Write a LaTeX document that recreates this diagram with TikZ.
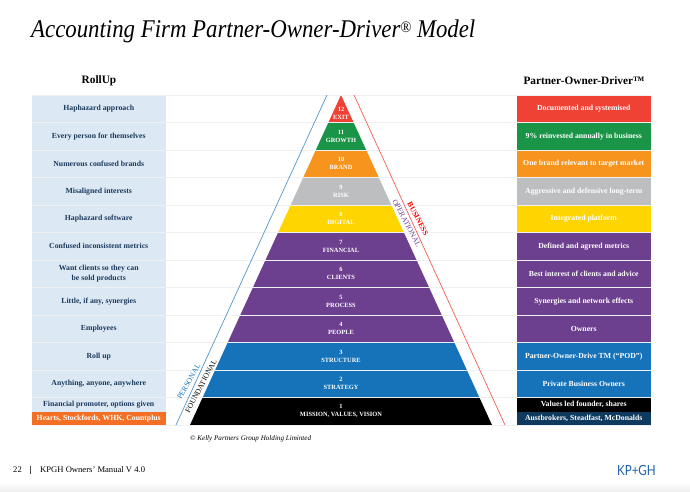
\documentclass[tikz,border=0pt]{standalone}
\usepackage{fontspec}
\setmainfont{Liberation Serif}
\newfontfamily\logofont{Lato}
\definecolor{podred}{HTML}{F04135}
\definecolor{podgreen}{HTML}{1A9447}
\definecolor{podorange}{HTML}{F7941E}
\definecolor{podgray}{HTML}{BCBEC0}
\definecolor{podyellow}{HTML}{FFD500}
\definecolor{podpurple}{HTML}{6C3F8F}
\definecolor{podblue}{HTML}{1673BA}
\definecolor{poddark}{HTML}{0F3A5F}
\definecolor{rollfill}{HTML}{DCE9F5}
\definecolor{rollorange}{HTML}{F26F24}
\definecolor{rolltext}{HTML}{1B3A5C}
\definecolor{rulegray}{HTML}{EEF0F2}
\definecolor{logoblue}{HTML}{1F5FA8}

\begin{document}
\begin{tikzpicture}[x = 1pt, y = -1pt]
        \tikzset{rollcell/.style={
            fill = rollfill,
            text = rolltext,
            font = \fontsize{7.75}{9.4}\selectfont\bfseries,
            align = center,
            inner sep = 0pt,
            minimum width = 134.5pt,
            minimum height = #1,
        }}
        \tikzset{podcell/.style={
            fill = #1,
            text = white,
            font = \fontsize{7.75}{9.4}\selectfont\bfseries,
            align = center,
            inner sep = 0pt,
            minimum width = 134.5pt,
            minimum height = 27.5pt,
        }}
        \tikzset{level/.style={
            text = white,
            font = \fontsize{6.4}{8}\selectfont\bfseries,
            align = center,
            inner sep = 0pt,
        }}
        \tikzset{side/.style={
            text = #1,
            font = \fontsize{7.6}{9}\selectfont,
            inner sep = 0pt,
        }}
        \tikzset{heading/.style={
            text = black,
            font = \fontsize{11.3}{13}\selectfont\bfseries,
            inner sep = 0pt,
        }}
        \useasboundingbox (0, 0) rectangle (690, 491);
        \shade[top color = white, bottom color = black!6] (0, 482) rectangle (690, 491);

        \node[anchor = base west, inner sep = 0pt, xscale = 0.895, transform shape, font = \fontsize{25.5}{30}\selectfont\itshape] (title) at (31, 37) {Accounting Firm Partner-Owner-Driver{\fontsize{16}{16}\selectfont\raisebox{4.5pt}{\textregistered}} Model};
        \node[heading] (rollhead) at (99, 80.5) {RollUp};
        \node[heading] (podhead) at (584, 80.5) {Partner-Owner-Driver\texttrademark};

        % left column
        \node[rollcell = 27.5pt] (r12) at (98.75, 108.75) {Haphazard approach};
        \node[rollcell = 27.5pt] (r11) at (98.75, 136.25) {Every person for themselves};
        \node[rollcell = 27.5pt] (r10) at (98.75, 163.75) {Numerous confused brands};
        \node[rollcell = 27.5pt] (r9) at (98.75, 191.25) {Misaligned interests};
        \node[rollcell = 27.5pt] (r8) at (98.75, 218.75) {Haphazard software};
        \node[rollcell = 27.5pt] (r7) at (98.75, 246.25) {Confused inconsistent metrics};
        \node[rollcell = 27.5pt] (r6) at (98.75, 273.75) {Want clients so they can\\be sold products};
        \node[rollcell = 27.5pt] (r5) at (98.75, 301.25) {Little, if any, synergies};
        \node[rollcell = 27.5pt] (r4) at (98.75, 328.75) {Employees};
        \node[rollcell = 27.5pt] (r3) at (98.75, 356.25) {Roll up};
        \node[rollcell = 27.5pt] (r2) at (98.75, 383.75) {Anything, anyone, anywhere};
        \node[rollcell = 14.5pt] (r1) at (98.75, 404.75) {Financial promoter, options given};
        \node[rollcell = 13pt, fill = rollorange, text = white] (r0) at (98.75, 418.5) {Hearts, Stockfords, WHK, Countplus};

        % right column
        \node[podcell = podred] (p12) at (583.75, 108.75) {Documented and systemised};
        \node[podcell = podgreen] (p11) at (583.75, 136.25) {9\% reinvested annually in business};
        \node[podcell = podorange] (p10) at (583.75, 163.75) {One brand relevant to target market};
        \node[podcell = podgray] (p9) at (583.75, 191.25) {Aggressive and defensive long-term};
        \node[podcell = podyellow] (p8) at (583.75, 218.75) {Integrated platform};
        \node[podcell = podpurple] (p7) at (583.75, 246.25) {Defined and agreed metrics};
        \node[podcell = podpurple] (p6) at (583.75, 273.75) {Best interest of clients and advice};
        \node[podcell = podpurple] (p5) at (583.75, 301.25) {Synergies and network effects};
        \node[podcell = podpurple] (p4) at (583.75, 328.75) {Owners};
        \node[podcell = podblue] (p3) at (583.75, 356.25) {Partner-Owner-Drive TM (``POD'')};
        \node[podcell = podblue] (p2) at (583.75, 383.75) {Private Business Owners};
        \node[podcell = black, minimum height = 14.5pt] (p1) at (583.75, 404.75) {Values led founder, shares};
        \node[podcell = poddark, minimum height = 13pt] (p0) at (583.75, 418.5) {Austbrokers, Steadfast, McDonalds};

        % pyramid
        \fill[podred] (341, 95) -- (353.6, 122.5) -- (328.4, 122.5) -- cycle;
        \fill[podgreen] (328.4, 122.5) -- (353.6, 122.5) -- (366.2, 150) -- (315.8, 150) -- cycle;
        \fill[podorange] (315.8, 150) -- (366.2, 150) -- (378.8, 177.5) -- (303.2, 177.5) -- cycle;
        \fill[podgray] (303.2, 177.5) -- (378.8, 177.5) -- (391.3, 205) -- (290.7, 205) -- cycle;
        \fill[podyellow] (290.7, 205) -- (391.3, 205) -- (403.9, 232.5) -- (278.1, 232.5) -- cycle;
        \fill[podpurple] (278.1, 232.5) -- (403.9, 232.5) -- (454.3, 342.5) -- (227.7, 342.5) -- cycle;
        \fill[podblue] (227.7, 342.5) -- (454.3, 342.5) -- (479.4, 397.5) -- (202.6, 397.5) -- cycle;
        \fill[black] (202.6, 397.5) -- (479.4, 397.5) -- (492, 425) -- (190, 425) -- cycle;

        % row rules
        \draw[rulegray, line width = 0.7pt] (31.5, 95) -- (651, 95);
        \draw[rulegray, line width = 1.1pt] (31.5, 122.5) -- (651, 122.5);
        \draw[rulegray, line width = 0.7pt] (31.5, 150) -- (651, 150);
        \draw[rulegray, line width = 1.1pt] (31.5, 177.5) -- (651, 177.5);
        \draw[rulegray, line width = 0.7pt] (31.5, 205) -- (651, 205);
        \draw[rulegray, line width = 1.1pt] (31.5, 232.5) -- (651, 232.5);
        \draw[rulegray, line width = 0.7pt] (31.5, 260) -- (651, 260);
        \draw[rulegray, line width = 1.1pt] (31.5, 287.5) -- (651, 287.5);
        \draw[rulegray, line width = 0.7pt] (31.5, 315) -- (651, 315);
        \draw[rulegray, line width = 1.1pt] (31.5, 342.5) -- (651, 342.5);
        \draw[rulegray, line width = 0.7pt] (31.5, 370) -- (651, 370);
        \draw[rulegray, line width = 0.5pt] (31.5, 397.5) -- (651, 397.5);
        \draw[rulegray, line width = 0.7pt] (31.5, 425) -- (651, 425);

        \node[level] (l12) at (341, 113) {12\\EXIT};
        \node[level] (l11) at (341, 136.25) {11\\GROWTH};
        \node[level] (l10) at (341, 163.75) {10\\BRAND};
        \node[level] (l9) at (341, 191.25) {9\\RISK};
        \node[level] (l8) at (341, 218.75) {8\\DIGITAL};
        \node[level] (l7) at (341, 246.25) {7\\FINANCIAL};
        \node[level] (l6) at (341, 273.75) {6\\CLIENTS};
        \node[level] (l5) at (341, 301.25) {5\\PROCESS};
        \node[level] (l4) at (341, 328.75) {4\\PEOPLE};
        \node[level] (l3) at (341, 356.25) {3\\STRUCTURE};
        \node[level] (l2) at (341, 383.75) {2\\STRATEGY};
        \node[level] (l1) at (341, 411) {1\\MISSION, VALUES, VISION};

        % the two slanted lines
        \coordinate (bluetop) at (327, 95);
        \coordinate (bluefoot) at (176, 425);
        \coordinate (redtop) at (354, 95);
        \coordinate (redfoot) at (505, 425);
        \draw[podblue!75, line width = 0.7pt] (bluetop) -- (bluefoot);
        \draw[podred!85, line width = 0.7pt] (redtop) -- (redfoot);

        \node[side = podblue, rotate = 60] (personal) at (188.8, 381.7) {PERSONAL};
        \node[side = black, rotate = 62] (foundational) at (201, 386) {FOUNDATIONAL};
        \node[side = red, rotate = -62] (business) at (418, 219) {\bfseries BUSINESS};
        \node[side = podpurple, rotate = -62] (operational) at (406.7, 223) {OPERATIONAL};

        \node[anchor = west, inner sep = 0pt, font = \fontsize{7.1}{9}\selectfont\itshape] (copyright) at (190, 439) {\textcopyright{} Kelly Partners Group Holding Liminted};

        % footer
        \node[anchor = west, inner sep = 0pt, font = \fontsize{8.6}{10}\selectfont] (page) at (13, 470) {22};
        \node[anchor = west, inner sep = 0pt, font = \fontsize{8.6}{10}\selectfont] (manual) at (40, 470) {KPGH Owners' Manual V 4.0};
        \coordinate (bartop) at (30.5, 466);
        \coordinate (barfoot) at (30.5, 474);
        \draw[black!70, line width = 0.5pt] (bartop) -- (barfoot);
        \node[anchor = east, inner sep = 0pt, text = logoblue, xscale = 0.83, transform shape, font = \fontsize{14}{16}\logofont\selectfont] (logo) at (656, 470) {KP+GH};
    \end{tikzpicture}
\end{document}
